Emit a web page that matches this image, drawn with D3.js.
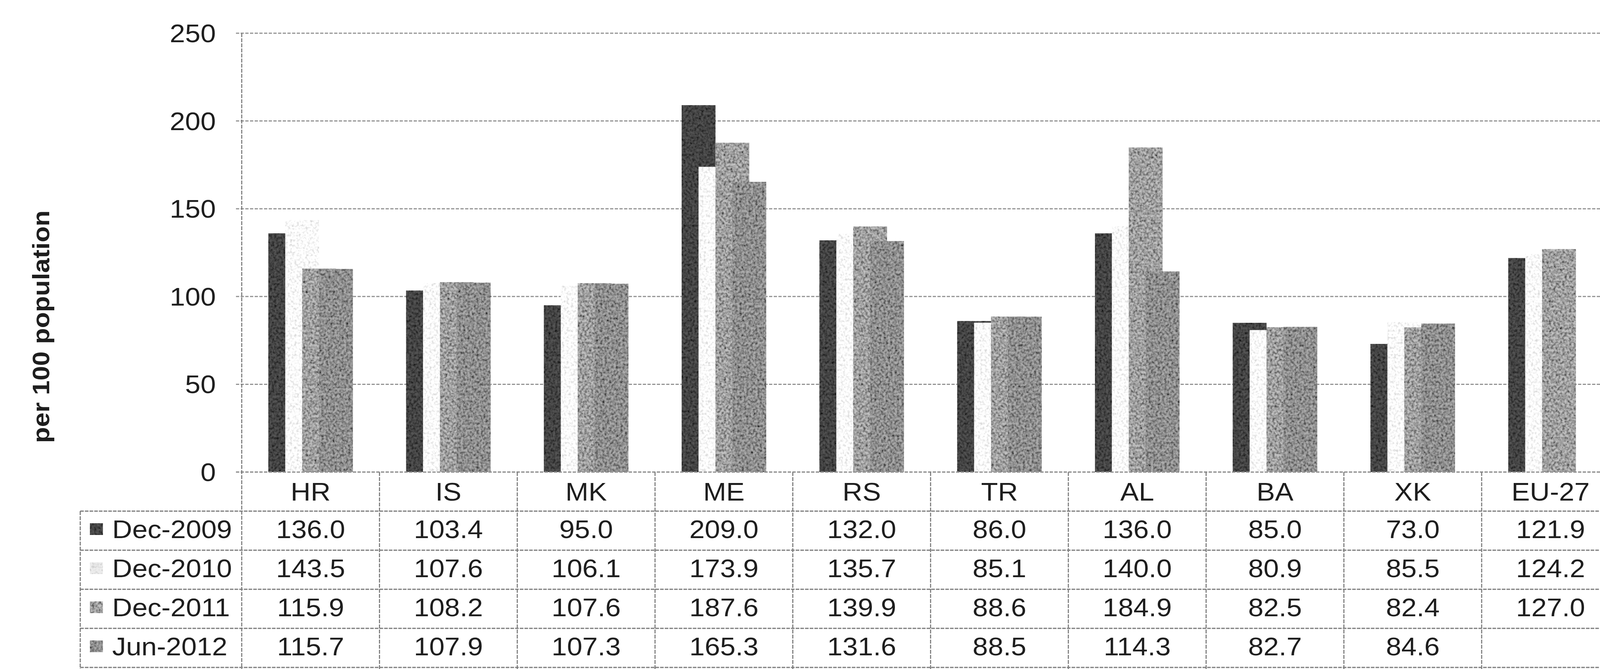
<!DOCTYPE html>
<html>
<head>
<meta charset="utf-8">
<script src="https://cdn.jsdelivr.net/npm/d3@7/dist/d3.min.js"></script>
<style>
  html, body { margin: 0; padding: 0; background: #fff; width: 100%; height: 100%; overflow: hidden; }
  svg { display: block; width: 100vw; height: 100vh; }
  text { font-family: "Liberation Sans", Arial, sans-serif; fill: #1e1e1e; }
</style>
</head>
<body>
<svg id="chart" viewBox="0 0 4448 1712" preserveAspectRatio="none"></svg>
<script>
// ---- data ----
const categories = ["HR", "IS", "MK", "ME", "RS", "TR", "AL", "BA", "XK", "EU-27"];
const seriesNames = ["Dec-2009", "Dec-2010", "Dec-2011", "Jun-2012"];
const dec2009 = [136.0, 103.4, 95.0, 209.0, 132.0, 86.0, 136.0, 85.0, 73.0, 121.9];
const dec2010 = [143.5, 107.6, 106.1, 173.9, 135.7, 85.1, 140.0, 80.9, 85.5, 124.2];
const dec2011 = [115.9, 108.2, 107.6, 187.6, 139.9, 88.6, 184.9, 82.5, 82.4, 127.0];
const jun2012 = [115.7, 107.9, 107.3, 165.3, 131.6, 88.5, 114.3, 82.7, 84.6, null];
const yTicks = [0, 50, 100, 150, 200, 250];
const yTitle = "per 100 population";

const seriesValues = [dec2009, dec2010, dec2011, jun2012];
const seriesColors = ["#555555", "#ffffff", "#c2c2c2", "#adadad"];
const grainStrength = [[1.7, -0.5], [0.9, -0.42], [1.7, -0.5], [1.7, -0.5]];

// ---- layout ----
const W = 4448, H = 1712;
const plotLeft = 672, bandW = 383;
const yZero = 1208, yTop = 85;
const tableLeft = 223, tableTop = 1308, rowH = 100;
const FS = 64, SX = 1.2;

const svg = d3.select("#chart");

// grain filters to imitate the scanned halftone texture
const defs = svg.append("defs");
grainStrength.forEach(([a, b], i) => {
  const f = defs.append("filter").attr("id", "grain" + i)
    .attr("x", "0%").attr("y", "0%").attr("width", "100%").attr("height", "100%");
  f.append("feTurbulence").attr("type", "fractalNoise").attr("baseFrequency", 0.16)
    .attr("numOctaves", 2).attr("seed", 5 + i).attr("result", "noise");
  f.append("feColorMatrix").attr("in", "noise").attr("type", "matrix")
    .attr("values", `0 0 0 0 0  0 0 0 0 0  0 0 0 0 0  ${a} 0 0 0 ${b}`).attr("result", "speck");
  f.append("feComposite").attr("in", "speck").attr("in2", "SourceGraphic")
    .attr("operator", "in").attr("result", "clip");
  const m = f.append("feMerge");
  m.append("feMergeNode").attr("in", "SourceGraphic");
  m.append("feMergeNode").attr("in", "clip");
});

const x0 = d3.scaleBand().domain(categories)
  .range([plotLeft, plotLeft + bandW * categories.length]).paddingInner(0).paddingOuter(0);
const y = d3.scaleLinear().domain([0, 250]).range([yZero, yTop]);

const barW = x0.bandwidth() * 0.2455;
const step = barW / 2;
const groupW = barW + step * (seriesNames.length - 1);

// gridlines
const gridStyle = sel => sel.attr("stroke", "#939393").attr("stroke-width", 3).attr("stroke-dasharray", "9 4");
svg.append("g").selectAll("line").data(yTicks).join("line")
  .attr("x1", plotLeft - 16).attr("x2", W)
  .attr("y1", d => y(d)).attr("y2", d => y(d))
  .call(gridStyle);

// y tick labels
svg.append("g").selectAll("text").data(yTicks).join("text")
  .attr("transform", d => `translate(600,${y(d)}) scale(${SX},1)`)
  .attr("text-anchor", "end").attr("dy", "0.36em")
  .attr("font-size", FS).text(d => d);

// y axis title
svg.append("text")
  .attr("transform", `translate(113,836) rotate(-90)`)
  .attr("text-anchor", "middle").attr("dy", "0.36em")
  .attr("font-size", 67).attr("font-weight", "bold").text(yTitle);

// bars
const barsG = svg.append("g");
seriesNames.forEach((name, si) => {
  const vals = seriesValues[si];
  barsG.append("g").selectAll("rect")
    .data(categories.map((c, i) => ({ c, v: vals[i] })).filter(d => d.v != null))
    .join("rect")
    .attr("x", d => x0(d.c) + (x0.bandwidth() - groupW) / 2 + si * step)
    .attr("width", barW)
    .attr("y", d => y(d.v))
    .attr("height", d => y(0) - y(d.v))
    .attr("fill", seriesColors[si])
    .attr("filter", `url(#grain${si})`);
});

// re-draw zero line over bars
svg.append("line").attr("x1", plotLeft - 16).attr("x2", W)
  .attr("y1", y(0)).attr("y2", y(0)).call(gridStyle);

// table lines
const lineStyle = sel => sel.attr("stroke", "#7a7a7a").attr("stroke-width", 3).attr("stroke-dasharray", "10 3");
// plot left border (extends through table)
svg.append("line").attr("x1", plotLeft).attr("x2", plotLeft)
  .attr("y1", y(250)).attr("y2", H).call(lineStyle);
// column borders
svg.append("g").selectAll("line").data(categories)
  .join("line")
  .attr("x1", d => x0(d) + x0.bandwidth())
  .attr("x2", d => x0(d) + x0.bandwidth())
  .attr("y1", y(0)).attr("y2", H).call(lineStyle);
// table left border
svg.append("line").attr("x1", tableLeft).attr("x2", tableLeft)
  .attr("y1", tableTop).attr("y2", H).call(lineStyle);
// row lines
svg.append("g").selectAll("line").data(d3.range(seriesNames.length + 1))
  .join("line")
  .attr("x1", tableLeft).attr("x2", W)
  .attr("y1", i => tableTop + i * rowH).attr("y2", i => tableTop + i * rowH)
  .call(lineStyle);

// category labels
svg.append("g").selectAll("text").data(categories).join("text")
  .attr("transform", d => `translate(${x0(d) + x0.bandwidth() / 2},${(yZero + tableTop) / 2}) scale(${SX},1)`)
  .attr("text-anchor", "middle").attr("dy", "0.36em")
  .attr("font-size", FS).text(d => d);

// legend keys + series names
const rows = svg.append("g").selectAll("g").data(seriesNames).join("g")
  .attr("transform", (d, i) => `translate(0,${tableTop + i * rowH + rowH / 2 - 4})`);
rows.append("rect").attr("x", 250).attr("y", -15).attr("width", 36).attr("height", 30)
  .attr("fill", (d, i) => i === 1 ? "#ececec" : seriesColors[i])
  .attr("filter", (d, i) => `url(#grain${i})`);
rows.append("text").attr("transform", `translate(312,0) scale(${SX},1)`)
  .attr("dy", "0.36em").attr("font-size", FS).text(d => d);

// values
seriesNames.forEach((name, si) => {
  const vals = seriesValues[si];
  svg.append("g").selectAll("text")
    .data(categories.map((c, i) => ({ c, v: vals[i] })).filter(d => d.v != null))
    .join("text")
    .attr("transform", d => `translate(${x0(d.c) + x0.bandwidth() / 2},${tableTop + si * rowH + rowH / 2 - 4}) scale(${SX},1)`)
    .attr("text-anchor", "middle").attr("dy", "0.36em")
    .attr("font-size", FS).text(d => d3.format(".1f")(d.v));
});
</script>
</body>
</html>
